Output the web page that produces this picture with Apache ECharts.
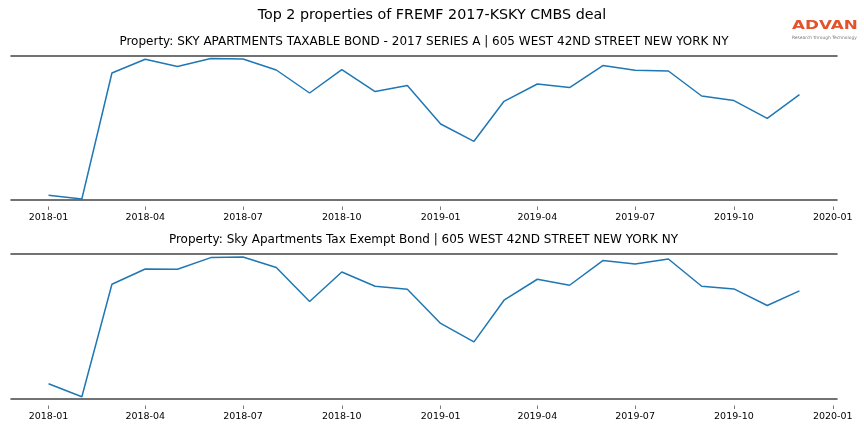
<!DOCTYPE html>
<html>
<head>
<meta charset="utf-8">
<script src="https://cdn.jsdelivr.net/npm/echarts@6/dist/echarts.min.js"></script>
<style>html,body{margin:0;padding:0;background:#fff}#chart{width:864px;height:432px}</style>
</head>
<body>
<div id="chart"></div>
<script>
const months = ['2018-01','2018-02','2018-03','2018-04','2018-05','2018-06','2018-07','2018-08','2018-09','2018-10','2018-11','2018-12',
  '2019-01','2019-02','2019-03','2019-04','2019-05','2019-06','2019-07','2019-08','2019-09','2019-10','2019-11','2019-12'];
const taxableBond = [4.7, 1.0, 127.0, 140.7, 133.4, 141.4, 141.0, 130.0, 107.0, 130.4, 108.4, 114.4,
  76.0, 58.7, 98.7, 116.0, 112.4, 134.4, 129.7, 129.0, 104.0, 99.4, 81.7, 105.4];
const taxExemptBond = [15.3, 2.3, 115.0, 130.3, 130.0, 141.7, 142.3, 131.7, 97.7, 127.3, 113.0, 110.0,
  75.7, 57.3, 99.0, 120.0, 114.0, 138.7, 135.3, 140.3, 113.0, 110.3, 93.7, 108.3];
const tickLabels = ['2018-01','2018-04','2018-07','2018-10','2019-01','2019-04','2019-07','2019-10','2020-01'];
const mainTitle = 'Top 2 properties of FREMF 2017-KSKY CMBS deal';
const subTitles = ['Property: SKY APARTMENTS TAXABLE BOND - 2017 SERIES A | 605 WEST 42ND STREET NEW YORK NY',
  'Property: Sky Apartments Tax Exempt Bond | 605 WEST 42ND STREET NEW YORK NY'];
const yMax = [144, 145.3];

const toTs = s => Date.UTC(+s.slice(0, 4), +s.slice(5, 7) - 1, 1);
const t0 = toTs(months[0]), t1 = toTs(months[months.length - 1]);
const pad = (t1 - t0) * 0.05;
const xMin = t0 - pad, xMax = t1 + pad;
const tickTs = tickLabels.map(toTs);
const FONT = 'DejaVu Sans';
const spineColor = '#444';

function bottomAxis(gi) {
  return {
    type: 'value', gridIndex: gi, min: xMin, max: xMax, position: 'bottom',
    axisLine: { show: true, onZero: false, lineStyle: { color: spineColor, width: 1.6 } },
    axisTick: { show: false }, axisLabel: { show: false }, splitLine: { show: false }
  };
}
function tickAxis(gi) {
  return {
    type: 'value', gridIndex: gi, min: xMin, max: xMax, position: 'bottom', offset: 6.5,
    axisLine: { show: false, onZero: false },
    axisTick: { show: true, customValues: tickTs, length: 3.5, lineStyle: { color: '#555', width: 0.8 } },
    axisLabel: { show: true, customValues: tickTs, fontFamily: FONT, fontSize: 9.5, color: '#000', margin: 6,
      formatter: v => { const i = tickTs.indexOf(v); return i >= 0 ? tickLabels[i] : ''; } },
    splitLine: { show: false }
  };
}
function topAxis(gi) {
  return {
    type: 'value', gridIndex: gi, min: xMin, max: xMax, position: 'top',
    axisLine: { show: true, onZero: false, lineStyle: { color: spineColor, width: 1.6 } },
    axisTick: { show: false }, axisLabel: { show: false }, splitLine: { show: false }
  };
}
function yAxis(gi) {
  return { type: 'value', gridIndex: gi, min: 0, max: yMax[gi], show: false };
}
function series(gi, vals) {
  return {
    type: 'line', xAxisIndex: gi * 3, yAxisIndex: gi, showSymbol: false, animation: false,
    data: months.map((m, i) => [toTs(m), vals[i]]),
    lineStyle: { color: '#1f77b4', width: 1.5 }, itemStyle: { color: '#1f77b4' }
  };
}

const chart = echarts.init(document.getElementById('chart'), null, { renderer: 'canvas' });
chart.setOption({
  animation: false,
  backgroundColor: '#fff',
  title: [
    { text: mainTitle, left: 'center', top: 3, textStyle: { fontFamily: FONT, fontSize: 14.3, fontWeight: 'normal', color: '#000' } },
    { text: subTitles[0], left: 419, textAlign: 'center', top: 31, textStyle: { fontFamily: FONT, fontSize: 12, fontWeight: 'normal', color: '#000' } },
    { text: subTitles[1], left: 418.5, textAlign: 'center', top: 229, textStyle: { fontFamily: FONT, fontSize: 12, fontWeight: 'normal', color: '#000' } }
  ],
  grid: [
    { left: 11, right: 27, top: 56, height: 144 },
    { left: 11, right: 27, top: 254, height: 145 }
  ],
  xAxis: [bottomAxis(0), topAxis(0), tickAxis(0), bottomAxis(1), topAxis(1), tickAxis(1)],
  yAxis: [yAxis(0), yAxis(1)],
  series: [series(0, taxableBond), series(1, taxExemptBond)],
  graphic: [
    { type: 'text', x: 792, y: 19, scaleX: 1.29, style: { text: 'ADVAN', fontFamily: FONT, fontSize: 13, fontWeight: 'bold', fill: '#e2532b' } },
    { type: 'text', x: 792, y: 35.5, style: { text: 'Research through Technology', fontFamily: FONT, fontSize: 4.4, fill: '#777' } }
  ]
});
</script>
</body>
</html>
